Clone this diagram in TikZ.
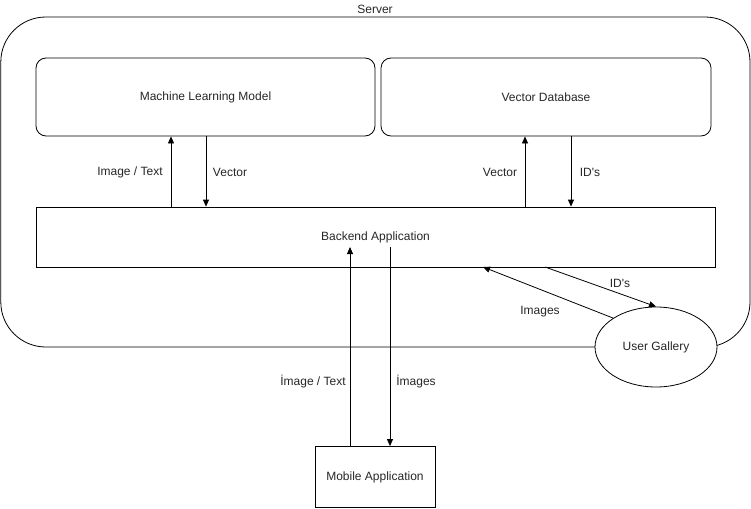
\documentclass[tikz,border=0pt]{standalone}
\usepackage{fontspec}
\setmainfont{Liberation Sans}
\usetikzlibrary{arrows.meta,shapes.geometric}
\begin{document}
\begin{tikzpicture}[x=1pt,y=-1pt,
  every node/.style={font=\fontsize{12}{14}\selectfont, text=black!85},
  arr/.style={line width=0.8pt, -{Triangle[length=7pt,width=6pt]}},
  lbl/.style={inner sep=0pt}]
\useasboundingbox (0,0) rectangle (751,508);
% server
\draw[line width=0.8pt, rounded corners=45pt] (0.8,17) rectangle (750,347);
\node[lbl] (srv) at (375,9) {Server};
% boxes
\node[draw, line width=0.8pt, rounded corners=10pt, minimum width=339pt, minimum height=78pt, inner sep=0pt] (ml) at (205.5,97) {Machine Learning Model};
\node[draw, line width=0.8pt, rounded corners=10pt, minimum width=330pt, minimum height=78pt, inner sep=0pt] (vdb) at (546,97) {Vector Database};
\node[draw, line width=0.8pt, minimum width=679pt, minimum height=60pt, inner sep=0pt] (back) at (375.5,237) {Backend Application};
\node[draw, line width=0.8pt, minimum width=120pt, minimum height=61pt, inner sep=0pt] (mob) at (375,477) {Mobile Application};
\node[draw, line width=0.8pt, ellipse, fill=white, minimum width=122pt, minimum height=80pt, inner sep=0pt] (ug) at (656,347) {User Gallery};
% coordinates
\coordinate (c1) at (171,0);
\coordinate (c2) at (206,0);
\coordinate (c3) at (525,0);
\coordinate (c4) at (571,0);
\coordinate (m1) at (350,247);
\coordinate (m2) at (390,247);
\coordinate (b1) at (545,267);
\coordinate (b2) at (483,267);
% arrows
\draw[arr] (back.north -| c1) -- (ml.south -| c1);
\draw[arr] (ml.south -| c2) -- (back.north -| c2);
\draw[arr] (back.north -| c3) -- (vdb.south -| c3);
\draw[arr] (vdb.south -| c4) -- (back.north -| c4);
\draw[arr] (mob.north -| m1) -- (m1);
\draw[arr] (m2) -- (mob.north -| m2);
\draw[arr] (b1) -- (ug.north);
\draw[arr] (ug.146) -- (b2);
% labels
\node[lbl] (l1) at (130,172) {Image / Text};
\node[lbl] (l2) at (230,172) {Vector};
\node[lbl] (l3) at (500,172) {Vector};
\node[lbl] (l4) at (590,172) {ID\textquotesingle s};
\node[lbl] (l5) at (620,283) {ID\textquotesingle s};
\node[lbl] (l6) at (540,312) {Images};
\node[lbl] (l7) at (313,382) {İmage / Text};
\node[lbl] (l8) at (416,382) {İmages};
\end{tikzpicture}
\end{document}
